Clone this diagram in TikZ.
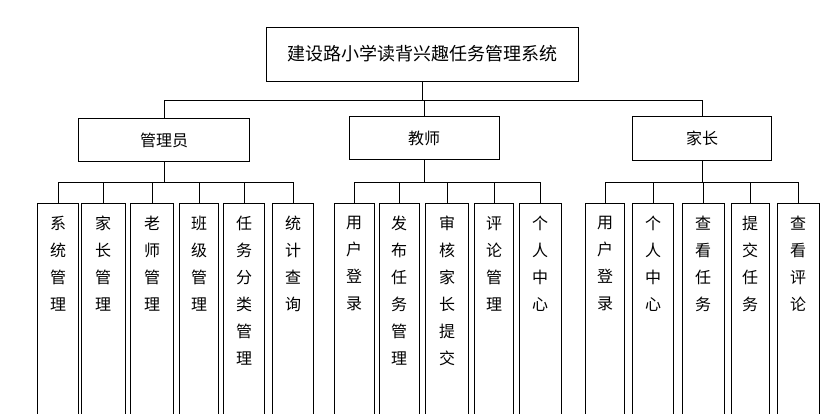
\documentclass[tikz,border=0pt]{standalone}
\usepackage{fontspec}
\newfontfamily\cjk{Noto Sans CJK SC}
\usetikzlibrary{positioning}

\begin{document}
\begin{tikzpicture}[x=1pt, y=-1pt, line width=0.8pt,
    box/.style={draw, font=\cjk\fontsize{16}{18}\selectfont, inner sep=0pt},
    leaf/.style={draw, anchor=north, align=center, inner xsep=0pt, inner ysep=13pt,
        text depth=240pt, font=\cjk\fontsize{16}{27}\selectfont}]

    \useasboundingbox (0,0) rectangle (829,413);
    \clip (0,0) rectangle (829,413);

    % Top and roles
    \node[box, minimum width=312, minimum height=54, font=\cjk\fontsize{18}{20}\selectfont] (sys) at (422,54) {建设路小学读背兴趣任务管理系统};
    \node[box, minimum width=171, minimum height=43] (mgr) at (164,140) {管理员};
    \node[box, minimum width=150, minimum height=43] (tea) at (424,138) {教师};
    \node[box, minimum width=139, minimum height=44] (par) at (702,138) {家长};

    % Admin leaves
    \node[leaf, minimum width=41] (m1) at (58,203) {系\\统\\管\\理};
    \node[leaf, minimum width=44] (m2) at (103,203) {家\\长\\管\\理};
    \node[leaf, minimum width=43] (m3) at (152,203) {老\\师\\管\\理};
    \node[leaf, minimum width=39] (m4) at (199,203) {班\\级\\管\\理};
    \node[leaf, minimum width=41] (m5) at (244,203) {任\\务\\分\\类\\管\\理};
    \node[leaf, minimum width=41] (m6) at (293,203) {统\\计\\查\\询};

    % Teacher leaves
    \node[leaf, minimum width=40] (t1) at (354,203) {用\\户\\登\\录};
    \node[leaf, minimum width=40] (t2) at (399,203) {发\\布\\任\\务\\管\\理};
    \node[leaf, minimum width=43] (t3) at (447,203) {审\\核\\家\\长\\提\\交};
    \node[leaf, minimum width=39] (t4) at (494,203) {评\\论\\管\\理};
    \node[leaf, minimum width=42] (t5) at (540,203) {个\\人\\中\\心};

    % Parent leaves
    \node[leaf, minimum width=39] (p1) at (605,203) {用\\户\\登\\录};
    \node[leaf, minimum width=41] (p2) at (653,203) {个\\人\\中\\心};
    \node[leaf, minimum width=42] (p3) at (703,203) {查\\看\\任\\务};
    \node[leaf, minimum width=38] (p4) at (750,203) {提\\交\\任\\务};
    \node[leaf, minimum width=42] (p5) at (798,203) {查\\看\\评\\论};

    % Connectors
    \coordinate (bus) at (0,100);
    \draw (sys.south) -- (sys.south |- bus);
    \foreach \r in {mgr, tea, par}
        \draw (sys.south |- bus) -| (\r.north);
    \coordinate (low) at (0,182);
    \foreach \l in {m1, m2, m3, m4, m5, m6}
        \draw (mgr.south) -- (mgr.south |- low) -| (\l.north);
    \foreach \l in {t1, t2, t3, t4, t5}
        \draw (tea.south) -- (tea.south |- low) -| (\l.north);
    \foreach \l in {p1, p2, p3, p4, p5}
        \draw (par.south) -- (par.south |- low) -| (\l.north);
\end{tikzpicture}
\end{document}
